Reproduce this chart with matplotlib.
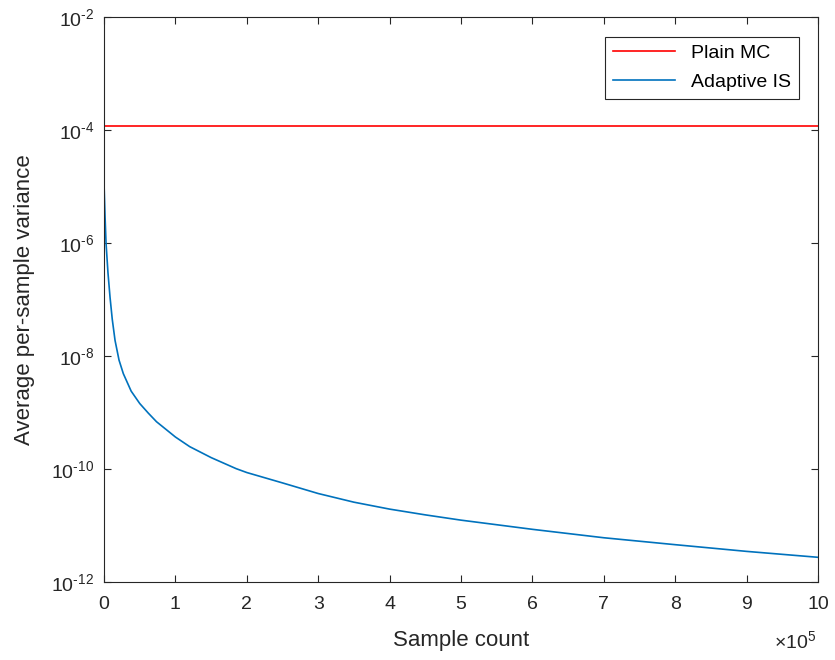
import matplotlib
matplotlib.use("Agg")
import matplotlib.pyplot as plt
import numpy as np

plt.rcParams['font.family'] = ['Liberation Sans', 'DejaVu Sans']

# Werte
plain_mc = 1.2e-4
samples = [0, 1400, 2800, 5500, 8400, 11500, 15400, 21000, 27000, 38000, 50000, 62000,
           73500, 100000, 120000, 150000, 185000, 200000, 250000, 300000, 350000,
           400000, 450000, 500000, 600000, 700000, 800000, 900000, 1000000]
adaptive = [1.1e-5, 3e-6, 1e-6, 3e-7, 1.1e-7, 4.5e-8, 1.9e-8, 8.5e-9, 4.9e-9, 2.4e-9, 1.45e-9, 9.8e-10,
            6.9e-10, 3.7e-10, 2.5e-10, 1.6e-10, 1.02e-10, 8.7e-11, 5.7e-11, 3.7e-11, 2.6e-11,
            1.96e-11, 1.55e-11, 1.25e-11, 8.6e-12, 6.1e-12, 4.6e-12, 3.5e-12, 2.75e-12]
y_exp = [-12, -10, -8, -6, -4, -2]

fig = plt.figure(figsize=(8.35, 6.6), dpi=100)
ax = fig.add_axes([0.1246, 0.118, 0.855, 0.856])

ax.plot([0, 1e6], [plain_mc, plain_mc], color='#ff0000', lw=1.2, label='Plain MC')
ax.plot(samples, adaptive, color='#0072bd', lw=1.2, label='Adaptive IS')

ax.set_yscale('log')
ax.set_xlim(0, 1e6)
ax.set_ylim(1e-12, 1e-2)
ax.set_yticks([10.0 ** e for e in y_exp])
# Bindestrich statt Minuszeichen wie in MATLAB
ax.set_yticklabels([r'$\mathregular{10^{%s}}$' % ('\u2010' + str(-e)) for e in y_exp])
ax.minorticks_off()
ax.set_xticks(np.arange(0, 11) * 1e5)
ax.set_xticklabels([str(i) for i in range(11)])
ax.tick_params(direction='in', top=True, right=True, labelsize=14, length=5,
               width=0.8, color='#262626', labelcolor='#262626')
ax.tick_params(axis='x', pad=10)
ax.tick_params(axis='y', pad=7)
for s in ax.spines.values():
    s.set_color('#262626')
    s.set_linewidth(0.8)

ax.set_xlabel('Sample count', fontsize=16, color='#262626', labelpad=12)
ax.set_ylabel('Average per-sample variance', fontsize=16, color='#262626', labelpad=12)
ax.text(0.997, -0.085, r'$\mathregular{\times10^{5}}$', transform=ax.transAxes,
        ha='right', va='top', fontsize=14, color='#262626')

leg = ax.legend(loc='upper right', fontsize=14, fancybox=False, framealpha=1,
                edgecolor='#262626', handlelength=3.2, borderaxespad=1.0,
                labelspacing=0.6)
leg.get_frame().set_linewidth(0.8)

plt.savefig('out.png', dpi=100)
